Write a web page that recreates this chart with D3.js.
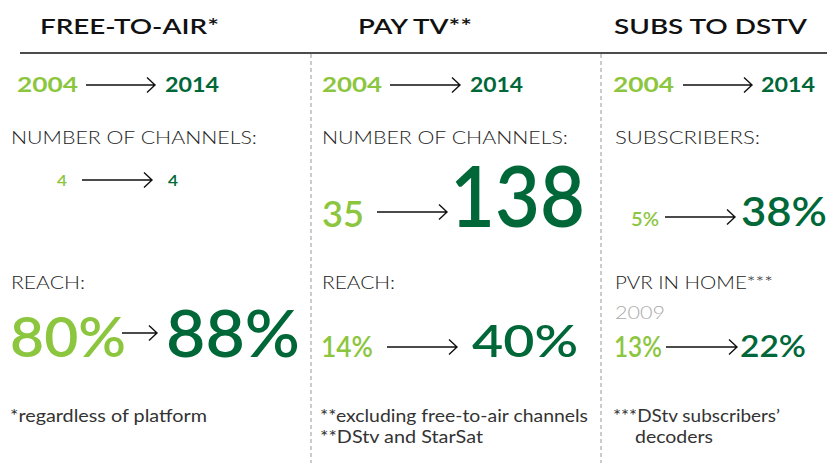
<!DOCTYPE html>
<html>
<head>
<meta charset="utf-8">
<script src="https://cdn.jsdelivr.net/npm/d3@7"></script>
<style>
  body { margin: 0; background: #fff; }
  svg { display: block; font-family: Lato, 'Open Sans', sans-serif; }
</style>
</head>
<body>
<svg id="chart" width="827" height="463"></svg>
<script>
// ---- data ----
const panels = ['FREE-TO-AIR*', 'PAY TV**', 'SUBS TO DSTV']
const yearFrom = ['2004', '2004', '2004']
const yearTo = ['2014', '2014', '2014']
const row1Labels = ['NUMBER OF CHANNELS:', 'NUMBER OF CHANNELS:', 'SUBSCRIBERS:']
const row1From = [4, 35, 5]
const row1To = [4, 138, 38]
const row1Unit = ['', '', '%']
const row2Labels = ['REACH:', 'REACH:', 'PVR IN HOME***']
const row2Sub = ['', '', '2009']
const row2From = [80, 14, 13]
const row2To = [88, 40, 22]
const footnotes = [
  ['*regardless of platform'],
  ['**excluding free-to-air channels', '**DStv and StarSat'],
  ['***DStv subscribers\u2019', 'decoders']
]

// ---- layout ----
const W = 827, H = 463
const light = '#8cc63f'
const dark = '#006838'
const panelX = [0, 311, 601]
// title start x and width
const titleLay = [[40, 179], [358, 114], [614, 193]]

// [fromX, fromSize, fromW, arrow0, arrow1, toX, toSize, toW]
const yearLay = [
  [17, 21, 61, 86, 155, 165, 21, 54],
  [322, 21, 60, 390, 460, 470, 21, 53],
  [613, 21, 61, 683, 752, 761, 21, 54]
]
const row1Lay = [
  { fx: 57, fs: 15, fw: 10, a0: 82, a1: 152, ay: 180, tx: 168, ts: 15, tw: 10, by: 186 },
  { fx: 322, fs: 37, fw: 42, a0: 377, a1: 447, ay: 212, tx: 450, ts: 84, tw: 135, by: 227 },
  { fx: 631, fs: 20, fw: 28, a0: 665, a1: 735, ay: 217, tx: 741, ts: 41, tw: 86, by: 226 }
]
const row2Lay = [
  { fx: 10, fs: 56, fw: 116, a0: 122, a1: 157, ay: 333, tx: 166, ts: 66, tw: 134, by: 357 },
  { fx: 321, fs: 28, fw: 52, a0: 387, a1: 457, ay: 347, tx: 472, ts: 45, tw: 106, by: 357 },
  { fx: 614, fs: 28, fw: 48, a0: 666, a1: 737, ay: 347, tx: 740, ts: 30, tw: 66, by: 357 }
]
const labelLay = [
  { x: 11, w1: 246, w2: 74 },
  { x: 322, w1: 246, w2: 73 },
  { x: 615, w1: 145, w2: 158 }
]
const footLay = [
  { x: 10, w: [197] },
  { x: 320, w: [268, 163] },
  { x: 613, w: [167, 78], indent: [0, 22] }
]

const svg = d3.select('#chart')
svg.append('rect').attr('width', W).attr('height', H).attr('fill', '#fff')

function txt(x, y, s, size, weight, color, w) {
  const t = svg.append('text')
    .attr('x', x).attr('y', y)
    .attr('font-size', size)
    .attr('font-weight', weight)
    .attr('fill', color)
    .text(s)
  if (w) t.attr('textLength', w).attr('lengthAdjust', 'spacingAndGlyphs')
  return t
}

function arrow(x0, x1, y) {
  svg.append('path')
    .attr('d', `M ${x0} ${y} L ${x1} ${y} M ${x1 - 8} ${y - 7.5} L ${x1} ${y} L ${x1 - 8} ${y + 7.5}`)
    .attr('fill', 'none')
    .attr('stroke', '#111')
    .attr('stroke-width', 1.4)
}

// top rule and dashed separators
svg.append('line')
  .attr('x1', 20).attr('x2', W).attr('y1', 53).attr('y2', 53)
  .attr('stroke', '#111').attr('stroke-width', 1.5)

svg.selectAll('.sep')
  .data(panelX.slice(1))
  .enter()
  .append('line')
  .attr('x1', d => d).attr('x2', d => d)
  .attr('y1', 54).attr('y2', H)
  .attr('stroke', '#999')
  .attr('stroke-dasharray', '4,3')

panels.forEach(function(p, i) {
  // title
  txt(titleLay[i][0], 34, p, 21, 600, '#111', titleLay[i][1])

  // years
  const y = yearLay[i]
  txt(y[0], 92, yearFrom[i], y[1], 700, light, y[2])
  arrow(y[3], y[4], 85)
  txt(y[5], 92, yearTo[i], y[6], 700, dark, y[7])

  // row 1
  const L = labelLay[i]
  txt(L.x, 144, row1Labels[i], 17, 300, '#222', L.w1)
  const r1 = row1Lay[i]
  txt(r1.fx, r1.by, row1From[i] + row1Unit[i], r1.fs, 600, light, r1.fw)
  arrow(r1.a0, r1.a1, r1.ay)
  txt(r1.tx, r1.by, row1To[i] + row1Unit[i], r1.ts, 600, dark, r1.tw)

  // row 2
  txt(L.x, 289, row2Labels[i], 17, 300, '#222', L.w2)
  if (row2Sub[i]) txt(L.x, 319, row2Sub[i], 17, 300, '#aaa', 50)
  const r2 = row2Lay[i]
  txt(r2.fx, r2.by, row2From[i] + '%', r2.fs, 600, light, r2.fw)
  arrow(r2.a0, r2.a1, r2.ay)
  txt(r2.tx, r2.by, row2To[i] + '%', r2.ts, 600, dark, r2.tw)

  // footnotes
  const F = footLay[i]
  footnotes[i].forEach(function(f, j) {
    const dx = F.indent ? F.indent[j] : 0
    txt(F.x + dx, 422 + j * 21, f, 16.5, 400, '#333', F.w[j])
  })
})
</script>
</body>
</html>
